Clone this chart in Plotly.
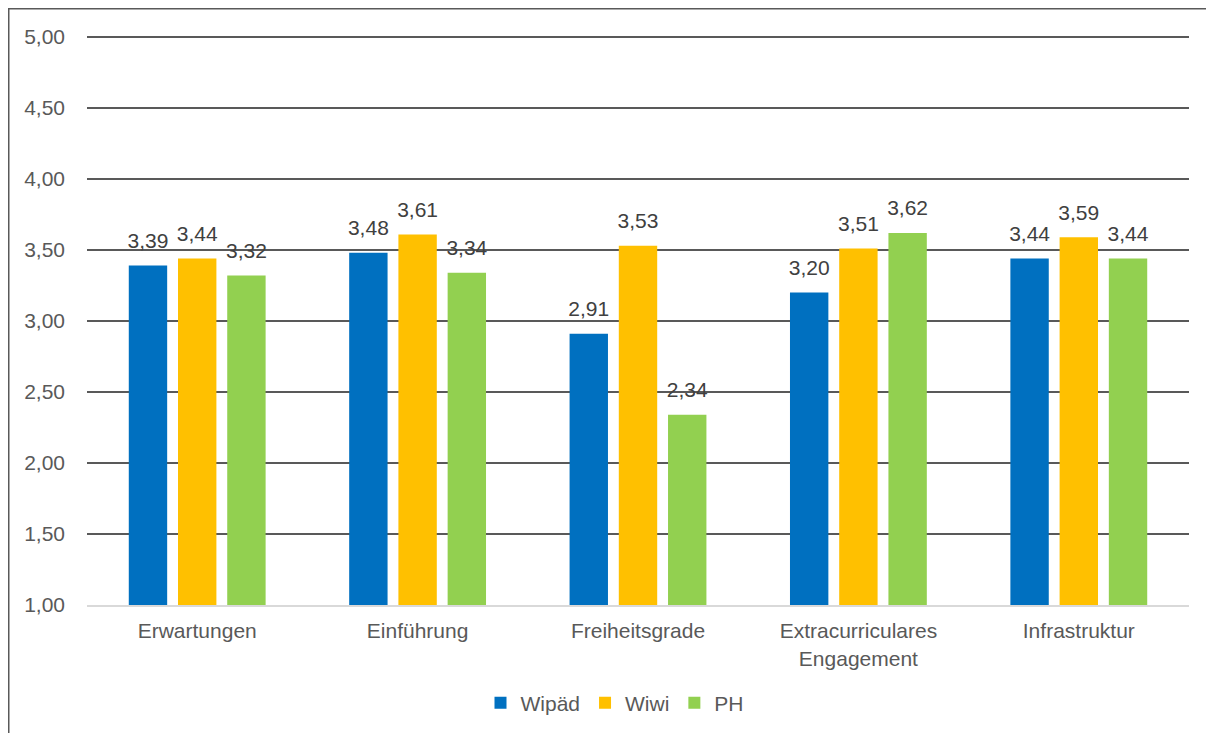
import plotly.graph_objects as go

categories = ["Erwartungen", "Einführung", "Freiheitsgrade",
              "Extracurriculares<br>Engagement", "Infrastruktur"]
wipaed = [3.39, 3.48, 2.91, 3.20, 3.44]
wiwi = [3.44, 3.61, 3.53, 3.51, 3.59]
ph = [3.32, 3.34, 2.34, 3.62, 3.44]
series_names = ["Wipäd", "Wiwi", "PH"]
colors = ["#0070C0", "#FFC000", "#92D050"]
y_ticks = [1.0, 1.5, 2.0, 2.5, 3.0, 3.5, 4.0, 4.5, 5.0]

FONT = "Liberation Sans, Arial, sans-serif"
FS = 21
GAP = 0.33

fig = go.Figure()
for name, vals, col in zip(series_names, [wipaed, wiwi, ph], colors):
    fig.add_trace(go.Bar(
        x=categories, y=vals, name=name, offsetgroup=name,
        marker=dict(color=col, line=dict(width=0)),
    ))
for name, vals in zip(series_names, [wipaed, wiwi, ph]):
    fig.add_trace(go.Scatter(
        x=categories, y=vals, offsetgroup=name, mode="markers+text",
        marker=dict(size=18, opacity=0),
        text=[f"{v:.2f}".replace(".", ",") for v in vals],
        textposition="top center",
        textfont=dict(size=FS, color="#404040", family=FONT),
        showlegend=False, hoverinfo="skip", cliponaxis=False,
    ))

# page has an 8px body margin: figure coords = page coords - 8
OFF = 8
W, H = 1214 - OFF, 733 - OFF
ml = 87 - OFF
top = 37 - OFF
bot = 605 - OFF
right = 1189 - OFF
PADTOP = 3
mr = W - right
mt = top - PADTOP
mb = H - bot
pw = right - ml
ph_ = bot - mt
ymax = 5 + PADTOP * 4 / (bot - top)  # keep the 5,00 grid line just inside

fig.update_layout(
    width=W, height=H,
    margin=dict(l=ml, r=mr, t=mt, b=mb, autoexpand=False),
    paper_bgcolor="white", plot_bgcolor="white",
    separators=", ",
    barmode="group", bargap=GAP, bargroupgap=0.22,
    scattermode="group", scattergap=GAP,
    font=dict(family=FONT, size=FS, color="#595959"),
    showlegend=True,
    legend=dict(orientation="h", x=(607 - ml) / pw, xanchor="center",
                y=-(695 - bot) / ph_, yanchor="middle",
                font=dict(size=FS, color="#595959"),
                itemwidth=30, tracegroupgap=0),
    xaxis=dict(showline=True, linecolor="#D9D9D9", linewidth=2,
               showgrid=False, ticks="", ticklabelstandoff=6,
               tickfont=dict(size=FS, color="#595959")),
    yaxis=dict(range=[1, ymax], tickvals=y_ticks, tickformat=".2f",
               showgrid=True, gridcolor="#595959", gridwidth=1.5,
               zeroline=False, showline=False, ticks="",
               ticklabelstandoff=21,
               tickfont=dict(size=FS, color="#595959")),
    shapes=[dict(type="rect", xref="paper", yref="paper",
                 x0=(0.5 - ml) / pw, x1=(W + 10 - ml) / pw,
                 y0=-(H + 10 - bot) / ph_,
                 y1=(bot - 0.5) / ph_,
                 line=dict(color="#595959", width=2), layer="below")],
)

fig.write_html("out.html")
